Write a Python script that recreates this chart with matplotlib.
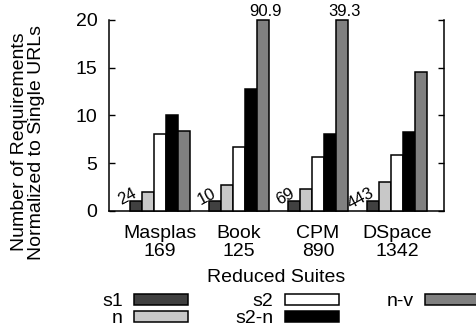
import matplotlib
matplotlib.use("Agg")
import matplotlib.pyplot as plt
import numpy as np

plt.rcParams['font.family'] = ['Liberation Sans', 'DejaVu Sans']

suites = ["Masplas\n169", "Book\n125", "CPM\n890", "DSpace\n1342"]
series = ["s1", "n", "s2", "s2-n", "n-v"]
colors = ["#404040", "#c8c8c8", "#ffffff", "#000000", "#808080"]

# values per series, one entry per suite
s1 = [1.0, 1.0, 1.0, 1.0]
n = [1.95, 2.75, 2.3, 3.05]
s2 = [8.1, 6.65, 5.6, 5.9]
s2_n = [10.05, 12.8, 8.1, 8.3]
n_v = [8.35, 90.9, 39.3, 14.5]
values = [s1, n, s2, s2_n, n_v]

# absolute counts written next to the s1 bars
s1_counts = ["24", "10", "69", "443"]

ymax = 20
width = 0.152

fig = plt.figure(figsize=(4.76, 3.32), dpi=100)
ax = fig.add_axes([0.228, 0.3645, 0.705, 0.5755])

x = np.arange(len(suites))
for i, (name, vals, col) in enumerate(zip(series, values, colors)):
    pos = x + (i - 2) * width
    shown = [min(v, ymax) for v in vals]
    ax.bar(pos, shown, width, color=col, edgecolor="black", linewidth=1.1,
           label=name, clip_on=False, zorder=3)
    # clipped bars get their real value on top
    for p, v in zip(pos, vals):
        if v > ymax:
            ax.text(p + 0.03, ymax + 0.1, f"{v:.1f}", ha="center", va="bottom",
                    fontsize=12)

for p, c in zip(x - 2 * width, s1_counts):
    ax.text(p + 0.04, 1.25, c, ha="right", va="bottom", fontsize=12,
            rotation=28, rotation_mode="anchor")

ax.set_xlim(-0.652, 3.595)
ax.set_ylim(0, ymax)
ax.set_yticks([0, 5, 10, 15, 20])
ax.set_xticks(x)
ax.set_xticklabels(suites, fontsize=14, linespacing=1.1)
ax.tick_params(axis="x", length=0, pad=10)
ax.tick_params(axis="y", direction="in", right=True, labelsize=14, pad=8,
               length=4, width=1)
ax.spines["top"].set_visible(False)
for s in ["left", "right", "bottom"]:
    ax.spines[s].set_linewidth(1.1)
ax.set_xlabel("Reduced Suites", fontsize=14, labelpad=6)

fig.text(28 / 476, 1 - 142 / 332,
         "Number of Requirements\nNormalized to Single URLs",
         rotation=90, ha="center", va="center", fontsize=14,
         multialignment="center", linespacing=0.95)

fig.legend(loc="upper left", bbox_to_anchor=(102 / 476, 1 - 293 / 332),
           ncol=3, frameon=False, fontsize=14, markerfirst=False,
           handlelength=2.75, handleheight=0.5, handletextpad=0.6,
           columnspacing=2.45, labelspacing=0.0, borderpad=0,
           borderaxespad=0)

fig.savefig("out.png", dpi=100)
